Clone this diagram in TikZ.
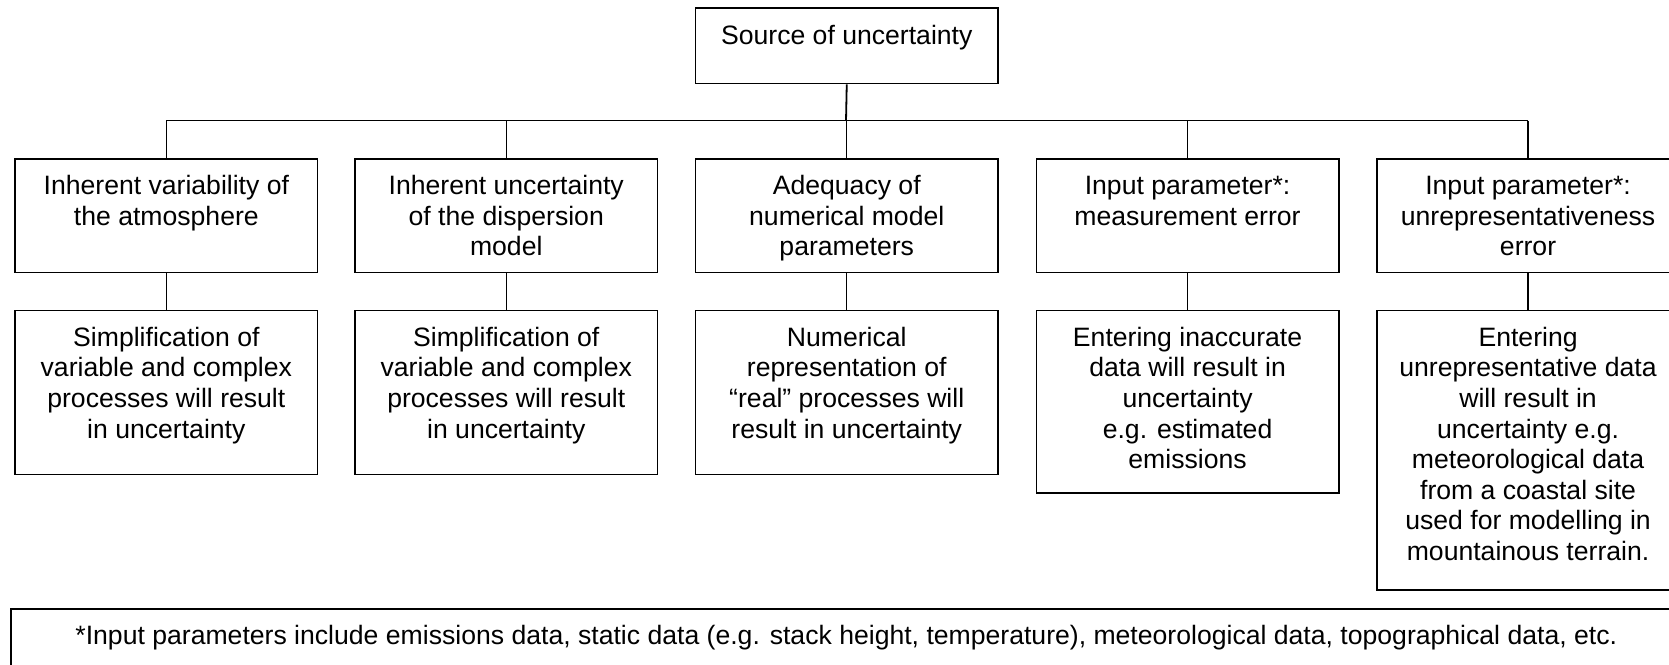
\documentclass[tikz,border=0pt]{standalone}
\usepackage{fontspec}
\setmainfont{Liberation Sans}
% box content: fixed width and height, text centred and hung from the top
\newcommand{\boxtext}[3]{\parbox[c][#2][t]{#1}{\centering\rule{0pt}{18pt}#3\par}}
\begin{document}
\begin{tikzpicture}[x=0.5pt,y=-0.5pt,
  box/.style={draw,line width=0.8pt,inner sep=0pt,anchor=north west,
    font=\fontsize{13.3pt}{15.28pt}\selectfont},
  link/.style={line width=0.6pt}]
\path[use as bounding box,clip] (0,0) rectangle (1669,664);

% root
\node[box] (top) at (694.7,7.3) {\boxtext{151.25pt}{37.7pt}{Source of uncertainty}};

% sources
\node[box] (a1) at (14.3,158) {\boxtext{151.25pt}{56.8pt}{Inherent variability of\\the atmosphere}};
\node[box] (a2) at (354.2,158) {\boxtext{151.25pt}{56.8pt}{Inherent uncertainty\\of the dispersion\\model}};
\node[box] (a3) at (694.7,158) {\boxtext{151.25pt}{56.8pt}{Adequacy of\\numerical model\\parameters}};
\node[box] (a4) at (1035.5,158) {\boxtext{151.25pt}{56.8pt}{Input parameter*:\\measurement error}};
\node[box] (a5) at (1376,158) {\boxtext{151.25pt}{56.8pt}{Input parameter*:\\unrepresentativeness\\error}};

% consequences
\node[box] (b1) at (14.3,309.6) {\boxtext{151.25pt}{81.95pt}{Simplification of\\variable and complex\\processes will result\\in uncertainty}};
\node[box] (b2) at (354.2,309.6) {\boxtext{151.25pt}{81.95pt}{Simplification of\\variable and complex\\processes will result\\in uncertainty}};
\node[box] (b3) at (694.7,309.6) {\boxtext{151.25pt}{81.95pt}{Numerical\\representation of\\“real” processes will\\result in uncertainty}};
\node[box] (b4) at (1035.5,309.6) {\boxtext{151.25pt}{91.35pt}{Entering inaccurate\\data will result in\\uncertainty\\e.g. estimated\\emissions}};
\node[box] (b5) at (1376,309.6) {\boxtext{151.25pt}{139.7pt}{Entering\\unrepresentative data\\will result in\\uncertainty e.g.\\meteorological data\\from a coastal site\\used for modelling in\\mountainous terrain.}};

% footnote
\node[box] (note) at (10,608) {\boxtext{835.5pt}{40pt}{*Input parameters include emissions data, static data (e.g. stack height, temperature), meteorological data, topographical data, etc.}};

% tree connectors
\coordinate (bus) at (846,120.7);
\draw[line width=0.9pt] (top.south) -- (bus);
\draw[link] (bus -| a1.north) -- (bus -| a5.north);
\foreach \n in {1,...,5} {
  \draw[link] (bus -| a\n.north) -- (a\n.north);
  \draw[link] (a\n.south) -- (b\n.north);
}
\end{tikzpicture}
\end{document}
